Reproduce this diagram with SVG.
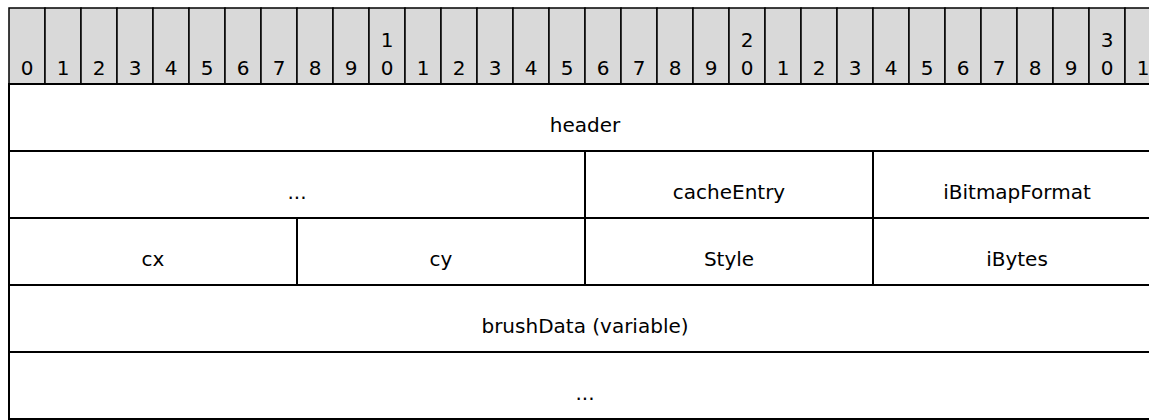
<svg xmlns="http://www.w3.org/2000/svg" width="1149" height="420" viewBox="0 0 1149 420">
<style>
.hc{fill:#d9d9d9;stroke:#000;stroke-width:1.5}
.f{fill:#fff;stroke:#000;stroke-width:2}
.t{font-family:"DejaVu Sans",Verdana,sans-serif;font-size:20px;fill:#000;text-anchor:middle}
.d{font-family:"DejaVu Sans",Verdana,sans-serif;font-size:20px;fill:#000;text-anchor:middle}
</style>
<rect width="1149" height="420" fill="#fff"/>
<g id="bitheader">
<rect class="hc" x="9" y="8" width="36" height="76"/><text class="d" x="27" y="75">0</text>
<rect class="hc" x="45" y="8" width="36" height="76"/><text class="d" x="63" y="75">1</text>
<rect class="hc" x="81" y="8" width="36" height="76"/><text class="d" x="99" y="75">2</text>
<rect class="hc" x="117" y="8" width="36" height="76"/><text class="d" x="135" y="75">3</text>
<rect class="hc" x="153" y="8" width="36" height="76"/><text class="d" x="171" y="75">4</text>
<rect class="hc" x="189" y="8" width="36" height="76"/><text class="d" x="207" y="75">5</text>
<rect class="hc" x="225" y="8" width="36" height="76"/><text class="d" x="243" y="75">6</text>
<rect class="hc" x="261" y="8" width="36" height="76"/><text class="d" x="279" y="75">7</text>
<rect class="hc" x="297" y="8" width="36" height="76"/><text class="d" x="315" y="75">8</text>
<rect class="hc" x="333" y="8" width="36" height="76"/><text class="d" x="351" y="75">9</text>
<rect class="hc" x="369" y="8" width="36" height="76"/><text class="d" x="387" y="47">1</text><text class="d" x="387" y="75">0</text>
<rect class="hc" x="405" y="8" width="36" height="76"/><text class="d" x="423" y="75">1</text>
<rect class="hc" x="441" y="8" width="36" height="76"/><text class="d" x="459" y="75">2</text>
<rect class="hc" x="477" y="8" width="36" height="76"/><text class="d" x="495" y="75">3</text>
<rect class="hc" x="513" y="8" width="36" height="76"/><text class="d" x="531" y="75">4</text>
<rect class="hc" x="549" y="8" width="36" height="76"/><text class="d" x="567" y="75">5</text>
<rect class="hc" x="585" y="8" width="36" height="76"/><text class="d" x="603" y="75">6</text>
<rect class="hc" x="621" y="8" width="36" height="76"/><text class="d" x="639" y="75">7</text>
<rect class="hc" x="657" y="8" width="36" height="76"/><text class="d" x="675" y="75">8</text>
<rect class="hc" x="693" y="8" width="36" height="76"/><text class="d" x="711" y="75">9</text>
<rect class="hc" x="729" y="8" width="36" height="76"/><text class="d" x="747" y="47">2</text><text class="d" x="747" y="75">0</text>
<rect class="hc" x="765" y="8" width="36" height="76"/><text class="d" x="783" y="75">1</text>
<rect class="hc" x="801" y="8" width="36" height="76"/><text class="d" x="819" y="75">2</text>
<rect class="hc" x="837" y="8" width="36" height="76"/><text class="d" x="855" y="75">3</text>
<rect class="hc" x="873" y="8" width="36" height="76"/><text class="d" x="891" y="75">4</text>
<rect class="hc" x="909" y="8" width="36" height="76"/><text class="d" x="927" y="75">5</text>
<rect class="hc" x="945" y="8" width="36" height="76"/><text class="d" x="963" y="75">6</text>
<rect class="hc" x="981" y="8" width="36" height="76"/><text class="d" x="999" y="75">7</text>
<rect class="hc" x="1017" y="8" width="36" height="76"/><text class="d" x="1035" y="75">8</text>
<rect class="hc" x="1053" y="8" width="36" height="76"/><text class="d" x="1071" y="75">9</text>
<rect class="hc" x="1089" y="8" width="36" height="76"/><text class="d" x="1107" y="47">3</text><text class="d" x="1107" y="75">0</text>
<rect class="hc" x="1125" y="8" width="36" height="76"/><text class="d" x="1143" y="75">1</text>
</g>
<g id="header"><rect class="f" x="9" y="84" width="1152" height="67"/><text class="t" x="585" y="132">header</text></g>
<g id="ellipsis1"><rect class="f" x="9" y="151" width="576" height="67"/><text class="t" x="297" y="199">...</text></g>
<g id="cacheEntry"><rect class="f" x="585" y="151" width="288" height="67"/><text class="t" x="729" y="199">cacheEntry</text></g>
<g id="iBitmapFormat"><rect class="f" x="873" y="151" width="288" height="67"/><text class="t" x="1017" y="199">iBitmapFormat</text></g>
<g id="cx"><rect class="f" x="9" y="218" width="288" height="67"/><text class="t" x="153" y="266">cx</text></g>
<g id="cy"><rect class="f" x="297" y="218" width="288" height="67"/><text class="t" x="441" y="266">cy</text></g>
<g id="Style"><rect class="f" x="585" y="218" width="288" height="67"/><text class="t" x="729" y="266">Style</text></g>
<g id="iBytes"><rect class="f" x="873" y="218" width="288" height="67"/><text class="t" x="1017" y="266">iBytes</text></g>
<g id="brushData"><rect class="f" x="9" y="285" width="1152" height="67"/><text class="t" x="585" y="333">brushData (variable)</text></g>
<g id="ellipsis2"><rect class="f" x="9" y="352" width="1152" height="67"/><text class="t" x="585" y="400">...</text></g>
<g id="connectors"/>
</svg>
